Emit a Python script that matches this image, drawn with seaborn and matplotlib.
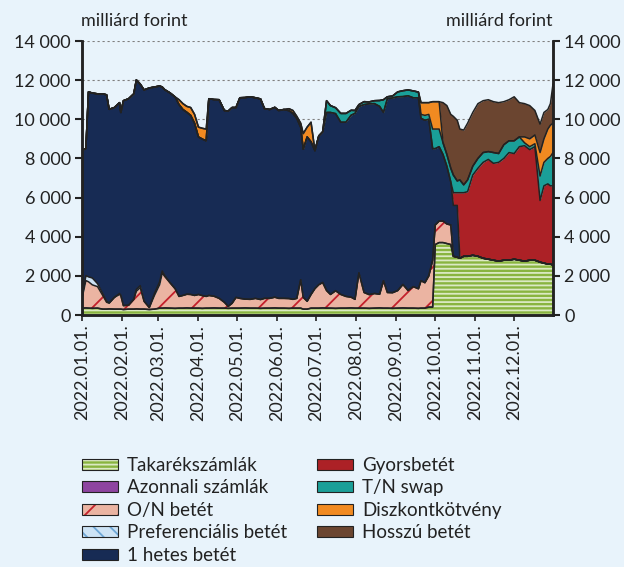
import numpy as np
import pandas as pd
import matplotlib
matplotlib.use("Agg")
import matplotlib.pyplot as plt
import matplotlib.dates as mdates
from matplotlib.patches import Patch
import seaborn as sns

# napi állományok (milliárd forint), leolvasva
dates = [
    "2022-01-01", "2022-01-04", "2022-01-06", "2022-01-09", "2022-01-13", "2022-01-17",
    "2022-01-20", "2022-01-22", "2022-01-26", "2022-01-30", "2022-01-31",
    "2022-02-02", "2022-02-06", "2022-02-10", "2022-02-12", "2022-02-15", "2022-02-18",
    "2022-02-22", "2022-02-26",
    "2022-03-02", "2022-03-04", "2022-03-06", "2022-03-10", "2022-03-14", "2022-03-17",
    "2022-03-20", "2022-03-23", "2022-03-26", "2022-03-29",
    "2022-04-01", "2022-04-04", "2022-04-07", "2022-04-09", "2022-04-13", "2022-04-17",
    "2022-04-21", "2022-04-24", "2022-04-27", "2022-04-30",
    "2022-05-03", "2022-05-07", "2022-05-11", "2022-05-15", "2022-05-19", "2022-05-22",
    "2022-05-26", "2022-05-30",
    "2022-06-02", "2022-06-06", "2022-06-10", "2022-06-13", "2022-06-16", "2022-06-19",
    "2022-06-21", "2022-06-24", "2022-06-27", "2022-06-30",
    "2022-07-03", "2022-07-06", "2022-07-09", "2022-07-12", "2022-07-16", "2022-07-20",
    "2022-07-24", "2022-07-28", "2022-07-31",
    "2022-08-03", "2022-08-07", "2022-08-11", "2022-08-15", "2022-08-19", "2022-08-22",
    "2022-08-25", "2022-08-29",
    "2022-09-02", "2022-09-06", "2022-09-10", "2022-09-14", "2022-09-18", "2022-09-20",
    "2022-09-23", "2022-09-26", "2022-09-29",
    "2022-10-01", "2022-10-04", "2022-10-07", "2022-10-10", "2022-10-13", "2022-10-15",
    "2022-10-18", "2022-10-20", "2022-10-23", "2022-10-26", "2022-10-30",
    "2022-11-03", "2022-11-07", "2022-11-11", "2022-11-15", "2022-11-19", "2022-11-23",
    "2022-11-27",
    "2022-12-01", "2022-12-05", "2022-12-09", "2022-12-13", "2022-12-17", "2022-12-21",
    "2022-12-24", "2022-12-27", "2022-12-29", "2022-12-31",
]

takarek = [
    350, 360, 350, 340, 350, 300, 300, 310, 300, 300, 300,
    280, 300, 300, 310, 300, 300, 280, 300,
    350, 350, 360, 350, 340, 350, 350, 360, 350, 350,
    350, 340, 350, 350, 360, 350, 350, 340, 350, 350,
    350, 360, 350, 350, 340, 350, 350, 360,
    350, 350, 340, 350, 350, 350, 300, 300, 350, 350,
    350, 360, 350, 350, 340, 350, 350, 360, 350,
    350, 350, 340, 350, 360, 350, 350, 340,
    350, 360, 350, 350, 340, 350, 350, 400, 400,
    3600, 3700, 3700, 3650, 3600, 3000, 2950, 2900, 3000, 3000, 3050,
    3000, 2900, 2850, 2800, 2750, 2800, 2800,
    2850, 2800, 2750, 2800, 2800, 2700, 2650, 2600, 2600, 2550,
]

azonnali = [
    0, 0, 0, 0, 0, 0, 0, 0, 0, 0, 0,
    0, 0, 0, 0, 0, 0, 0, 0,
    0, 0, 0, 0, 0, 0, 0, 0, 0, 0,
    0, 0, 0, 0, 0, 0, 0, 0, 0, 0,
    0, 0, 0, 0, 0, 0, 0, 0,
    0, 0, 0, 0, 0, 0, 0, 0, 0, 0,
    0, 0, 0, 0, 0, 0, 0, 0, 0,
    0, 0, 0, 0, 0, 0, 0, 0,
    0, 0, 0, 0, 0, 0, 0, 0, 0,
    0, 0, 0, 0, 0, 0, 0, 0, 0, 0, 0,
    0, 0, 0, 0, 0, 0, 0,
    0, 0, 0, 0, 0, 0, 0, 0, 0, 0,
]

on_betet = [
    500, 1400, 1350, 1200, 1100, 700, 350, 300, 600, 750, 700,
    200, 200, 500, 900, 1100, 400, 100, 700,
    1200, 1800, 1600, 1300, 1000, 600, 650, 700, 700, 650,
    700, 650, 600, 650, 600, 500, 300, 100, 250, 550,
    500, 450, 450, 500, 450, 500, 500, 550,
    500, 500, 500, 450, 500, 1450, 600, 400, 700, 1000,
    1200, 1300, 900, 700, 900, 700, 600, 550, 450,
    1800, 800, 700, 750, 700, 1400, 800, 800,
    900, 1200, 900, 1100, 1000, 1400, 1300, 1600, 2400,
    1000, 1100, 1100, 1000, 1000, 0, 0, 0, 0, 0, 0,
    0, 0, 0, 0, 0, 0, 0,
    0, 0, 0, 0, 0, 0, 0, 0, 0, 0,
]

preferencialis = [
    0, 250, 250, 350, 150, 100, 50, 0, 0, 50, 0,
    0, 0, 0, 100, 100, 0, 0, 100,
    150, 100, 50, 0, 0, 0, 0, 0, 0, 0,
    0, 0, 0, 0, 0, 0, 0, 0, 0, 0,
    0, 0, 0, 0, 0, 0, 0, 0,
    0, 0, 0, 0, 0, 0, 0, 0, 0, 0,
    0, 0, 0, 0, 0, 0, 0, 0, 0,
    0, 0, 0, 0, 0, 0, 0, 0,
    0, 0, 0, 0, 0, 0, 0, 0, 0,
    0, 0, 0, 0, 0, 0, 0, 0, 0, 0, 0,
    0, 0, 0, 0, 0, 0, 0,
    0, 0, 0, 0, 0, 0, 0, 0, 0, 0,
]

egyhetes = [
    7550, 6500, 9450, 9450, 9700, 10200, 10550, 9900, 9700, 9750, 9350,
    10470, 10550, 10500, 10700, 10300, 10800, 11220, 10550,
    10000, 9400, 9500, 9700, 9800, 9800, 9500, 9300, 9150, 8800,
    8050, 8000, 7950, 10050, 10050, 10150, 9800, 9980, 10000, 9700,
    10250, 10300, 10350, 10250, 10250, 9700, 9650, 9700,
    9600, 9650, 9600, 9500, 9200, 7800, 7570, 8400, 7800, 7050,
    7600, 7700, 9100, 9300, 9050, 8800, 8900, 9300, 9500,
    8500, 9600, 9750, 9700, 9600, 8600, 9900, 9950,
    9900, 9600, 9950, 9650, 9750, 8300, 8300, 8000, 5700,
    3900, 3800, 3400, 2950, 2200, 2600, 2650, 0, 0, 0, 0,
    0, 0, 0, 0, 0, 0, 0,
    0, 0, 0, 0, 0, 0, 0, 0, 0, 0,
]

gyorsbetet = [
    0, 0, 0, 0, 0, 0, 0, 0, 0, 0, 0,
    0, 0, 0, 0, 0, 0, 0, 0,
    0, 0, 0, 0, 0, 0, 0, 0, 0, 0,
    0, 0, 0, 0, 0, 0, 0, 0, 0, 0,
    0, 0, 0, 0, 0, 0, 0, 0,
    0, 0, 0, 0, 0, 0, 0, 0, 0, 0,
    0, 0, 0, 0, 0, 0, 0, 0, 0,
    0, 0, 0, 0, 0, 0, 0, 0,
    0, 0, 0, 0, 0, 0, 0, 0, 0,
    0, 0, 0, 0, 0, 650, 650, 3350, 3250, 3300, 4100,
    4500, 4900, 5100, 4950, 5050, 5200, 5500,
    5400, 5800, 5900, 5650, 5800, 3150, 3950, 4100, 4000, 4050,
]

tn_swap = [
    0, 0, 0, 0, 0, 0, 0, 0, 0, 0, 0,
    0, 0, 0, 0, 0, 0, 0, 0,
    0, 0, 0, 0, 0, 0, 0, 0, 0, 0,
    0, 0, 0, 0, 0, 0, 0, 0, 0, 0,
    0, 0, 0, 0, 0, 0, 0, 0,
    0, 0, 0, 0, 0, 0, 0, 0, 0, 0,
    0, 0, 600, 350, 300, 450, 450, 250, 150,
    100, 150, 100, 150, 300, 650, 100, 100,
    250, 300, 300, 350, 300, 200, 250, 250, 1000,
    1000, 900, 600, 600, 700, 900, 600, 650, 400, 600, 450,
    500, 500, 400, 550, 450, 700, 600,
    650, 500, 150, 150, 150, 1250, 1200, 1300, 1500, 1700,
]

diszkont = [
    0, 0, 0, 0, 0, 0, 0, 0, 0, 0, 0,
    0, 0, 0, 0, 0, 0, 0, 0,
    0, 0, 0, 0, 0, 250, 300, 300, 400, 450,
    500, 550, 600, 0, 0, 0, 0, 0, 0, 0,
    0, 0, 0, 0, 0, 0, 0, 0,
    0, 0, 100, 150, 100, 200, 800, 500, 1000, 0,
    0, 0, 0, 0, 0, 0, 0, 0, 0,
    0, 0, 0, 0, 0, 0, 0, 0,
    0, 0, 0, 0, 0, 600, 650, 600, 1400,
    1400, 1400, 0, 0, 0, 0, 0, 0, 0, 0, 0,
    0, 0, 0, 0, 0, 0, 0,
    0, 0, 300, 400, 450, 1200, 1200, 1500, 1600, 1500,
]

hosszu = [
    0, 0, 0, 0, 0, 0, 0, 0, 0, 0, 0,
    0, 0, 0, 0, 0, 0, 0, 0,
    0, 0, 0, 0, 0, 0, 0, 0, 0, 0,
    0, 0, 0, 0, 0, 0, 0, 0, 0, 0,
    0, 0, 0, 0, 0, 0, 0, 0,
    0, 0, 0, 0, 0, 0, 0, 0, 0, 0,
    0, 0, 0, 0, 0, 0, 0, 0, 0,
    0, 0, 0, 0, 0, 0, 0, 0,
    0, 0, 0, 0, 0, 0, 0, 0, 0,
    0, 0, 2050, 2500, 2750, 3000, 3100, 2600, 2800, 2900, 2750,
    2800, 2650, 2650, 2600, 2600, 2200, 2100,
    2250, 1750, 1700, 1700, 1250, 1450, 1350, 1000, 1100, 2000,
]

labels = ["Takarékszámlák", "Azonnali számlák", "O/N betét", "Preferenciális betét",
          "1 hetes betét", "Gyorsbetét", "T/N swap", "Diszkontkötvény", "Hosszú betét"]
yticks = [0, 2000, 4000, 6000, 8000, 10000, 12000, 14000]
ytick_labels = ["0", "2 000", "4 000", "6 000", "8 000", "10 000", "12 000", "14 000"]

face = ["#89b43f", "#8e44a0", "#ebb4a2", "#cde3f5", "#172b54",
        "#ac2126", "#1a9f98", "#f18a21", "#6b4530"]
hatches = {0: ("----", "#dbe9c3"), 2: ("/", "#c4212c"), 3: ("\\\\", "#6fa7d6")}
bg = "#e8f3fb"
dark = "#222222"

sns.set_style("ticks")
plt.rcParams["font.family"] = ["Lato", "DejaVu Sans"]
plt.rcParams["hatch.linewidth"] = 1.3

fig = plt.figure(figsize=(6.24, 5.67), dpi=100, facecolor=bg)
ax = fig.add_axes([82 / 624, 1 - 315 / 567, (553 - 82) / 624, (315 - 41) / 567])
ax.set_facecolor(bg)

x = pd.to_datetime(dates)
series = [takarek, azonnali, on_betet, preferencialis, egyhetes,
          gyorsbetet, tn_swap, diszkont, hosszu]
ax.stackplot(x, *series, colors=face, linewidth=0)

cum = np.cumsum(np.array(series, dtype=float), axis=0)
for i, (h, hc) in hatches.items():
    lo = cum[i - 1] if i > 0 else np.zeros(len(x))
    ax.fill_between(x, lo, cum[i], facecolor="none", edgecolor=hc, hatch=h, linewidth=0)
for i in range(len(series)):
    ax.plot(x, cum[i], color=dark, lw=1.1)

ax.set_xlim(pd.Timestamp("2022-01-01"), pd.Timestamp("2022-12-31"))
ax.set_ylim(0, 14000)
ax.set_yticks(yticks)
ax.set_yticklabels(ytick_labels)
ax.yaxis.grid(True, color="#7f7f7f", linestyle=(0, (2, 2.5)), lw=0.8)
ax.xaxis.grid(False)
ax.set_axisbelow(True)

ax.xaxis.set_major_locator(mdates.MonthLocator())
ax.xaxis.set_major_formatter(mdates.DateFormatter("%Y.%m.%d."))
ax.tick_params(axis="x", direction="out", length=4, width=1.2, pad=3,
               labelsize=13, rotation=90, colors=dark)
ax.tick_params(axis="y", direction="out", length=5, width=1.5, pad=3,
               labelsize=13, colors=dark)

ax2 = ax.twinx()
ax2.set_ylim(0, 14000)
ax2.set_yticks(yticks)
ax2.set_yticklabels(ytick_labels)
ax2.tick_params(axis="y", direction="out", length=5, width=1.5, pad=3,
                labelsize=13, colors=dark)
ax2.grid(False)

for a in (ax, ax2):
    a.spines["top"].set_visible(False)
    for s in ("left", "right", "bottom"):
        a.spines[s].set_linewidth(1.8)
        a.spines[s].set_color(dark)

fig.text(81 / 624, 1 - 21 / 567, "milliárd forint", ha="left", va="center",
         fontsize=13, color=dark)
fig.text(553 / 624, 1 - 21 / 567, "milliárd forint", ha="right", va="center",
         fontsize=13, color=dark)

handles = []
for i, fc in enumerate(face):
    parts = [Patch(facecolor=fc, edgecolor="none", lw=0)]
    if i in hatches:
        h, hc = hatches[i]
        parts.append(Patch(facecolor="none", edgecolor=hc, hatch=h, lw=0))
    parts.append(Patch(facecolor="none", edgecolor=dark, lw=0.8))
    handles.append(tuple(parts))

leg_kw = dict(frameon=False, fontsize=13.5, handlelength=1.92, handleheight=0.53,
              handletextpad=0.48, labelspacing=0.29, borderpad=0, borderaxespad=0,
              loc="upper left", labelcolor=dark)
leg1 = fig.legend(handles[:5], labels[:5], bbox_to_anchor=(82 / 624, 1 - 457 / 567), **leg_kw)
leg2 = fig.legend(handles[5:], labels[5:], bbox_to_anchor=(317 / 624, 1 - 457 / 567), **leg_kw)

fig.savefig("out.png", dpi=100, facecolor=bg)
